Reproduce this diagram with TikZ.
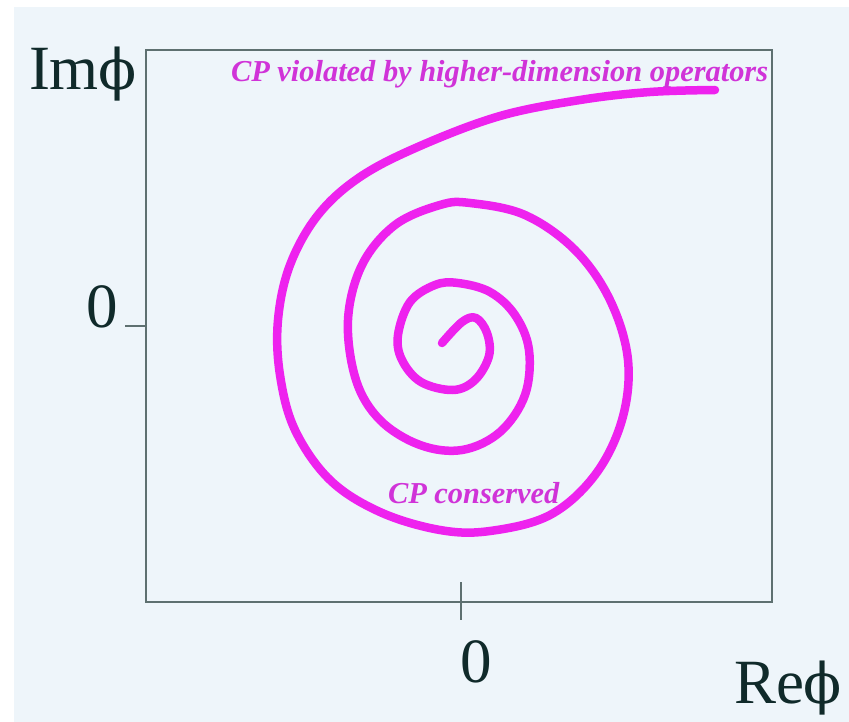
\documentclass[tikz,border=0pt]{standalone}
\usepackage{fontspec}
\setmainfont{Liberation Serif}
\newfontfamily\phifont{DejaVu Serif}
\definecolor{bgblue}{HTML}{EEF5FA}
\definecolor{framegray}{HTML}{5E7070}
\definecolor{labelink}{HTML}{102A2A}
\definecolor{spiralmag}{HTML}{EE22EE}
\definecolor{textmag}{HTML}{D033D8}
\newcommand{\stphi}{{\phifont\fontsize{56}{56}\selectfont ϕ}}
\tikzset{
  axislabel/.style={inner sep=0pt, outer sep=0pt, text=labelink, font=\fontsize{63}{63}\selectfont},
  cptext/.style={inner sep=0pt, outer sep=0pt, text=textmag, font=\fontsize{30.4}{30}\selectfont\bfseries\itshape},
  framestyle/.style={draw=framegray, line width=2pt},
  spiralline/.style={draw=spiralmag, line width=8.5pt, line cap=round, line join=round}
}
\begin{document}
\begin{tikzpicture}[x=1pt, y=-1pt]
\useasboundingbox (0,0) rectangle (849,722);
\fill[white] (0,0) rectangle (849,722);
\fill[bgblue] (14,7) rectangle (849,722);
% frame
\draw[framestyle] (146,50) rectangle (772,602);
% ticks
\coordinate (ytickA) at (125,326);
\coordinate (ytickB) at (146,326);
\coordinate (xtickA) at (461,582);
\coordinate (xtickB) at (461,620);
\draw[framestyle] (ytickA) -- (ytickB);
\draw[framestyle] (xtickA) -- (xtickB);
% labels
\node[axislabel, anchor=base west] (imlab) at (29,90) {Im\stphi};
\node[axislabel, anchor=base west] (yzero) at (86,327) {0};
\node[axislabel, anchor=base west] (xzero) at (460,682) {0};
\node[axislabel, anchor=base west] (relab) at (734,703) {Re\stphi};
% spiral
\draw[spiralline] plot[smooth, tension=0.6] coordinates {
 (442,343) (462,322) (476,318) (487,333) (489,356) (475,380) (453,390)
 (421,382) (402,360) (398,335) (410,302) (435,285) (458,283) (490,292)
 (515,315) (529,350) (525,395) (500,432) (462,450) (420,445) (380,420)
 (356,380) (348,320) (362,265) (395,225) (440,205) (470,203) (525,215)
 (575,250) (610,300) (628,360) (622,420) (595,475) (550,515) (490,531)
 (440,530) (380,512) (330,480) (295,430) (280,375) (278,320) (290,265)
 (318,215) (360,177) (420,146) (500,116) (580,100) (650,92) (715,90)};
% texts
\node[cptext, anchor=base west] (cpviol) at (231,82) {CP violated by higher-dimension operators};
\node[cptext, anchor=base west] (cpcons) at (388,503) {CP conserved};
\end{tikzpicture}
\end{document}
